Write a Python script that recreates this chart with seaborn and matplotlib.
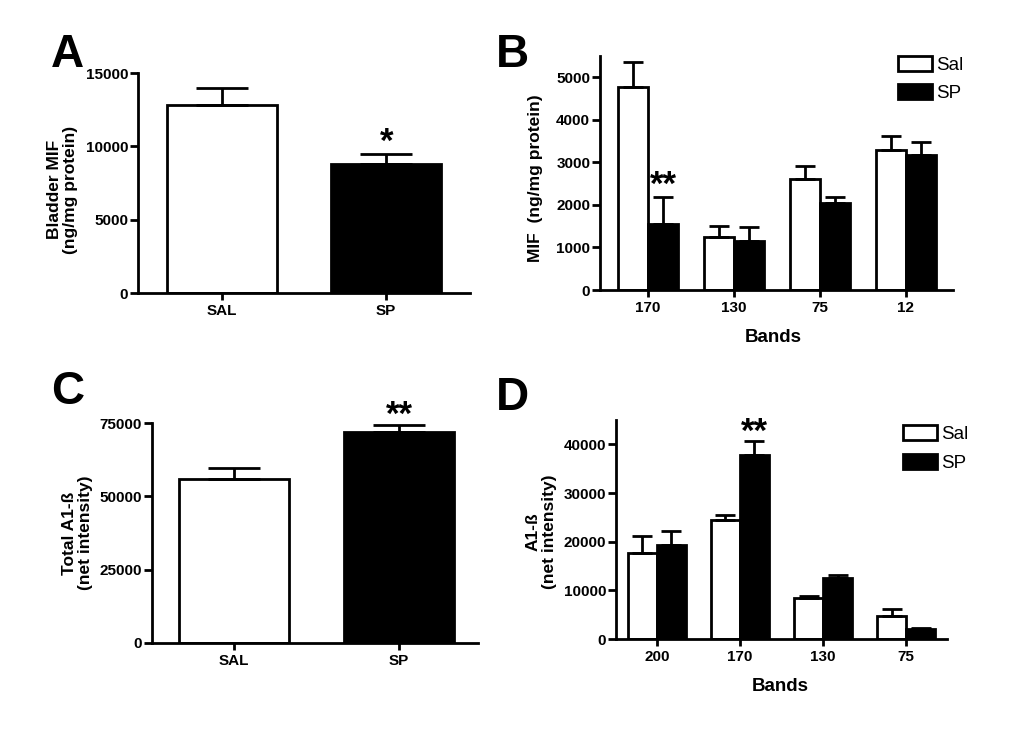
"""
Four-panel MIF / A1-ß bar chart (SAL vs SP), mean + SEM.
"""
import matplotlib
matplotlib.use("Agg")
import matplotlib.pyplot as plt
from matplotlib.patches import Patch
import pandas as pd
import seaborn as sns

sns.set_style("ticks")
plt.rcParams["font.family"] = ["Liberation Sans", "DejaVu Sans"]
plt.rcParams["font.weight"] = "bold"
plt.rcParams["axes.labelweight"] = "bold"
for key in ("text.color", "axes.labelcolor", "xtick.color", "ytick.color",
            "axes.edgecolor"):
    plt.rcParams[key] = "black"

# panel A / C: two treatment groups
GROUPS = ["SAL", "SP"]
A_MEAN = [12850, 8800]
A_SEM = [1120, 690]
C_MEAN = [55800, 71900]
C_SEM = [3900, 2400]

# panel B: MIF by band
B_BANDS = ["170", "130", "75", "12"]
B_SAL = [4760, 1250, 2620, 3300]
B_SAL_SEM = [590, 260, 290, 330]
B_SP = [1560, 1160, 2050, 3180]
B_SP_SEM = [620, 330, 130, 310]

# panel D: A1-ß by band
D_BANDS = ["200", "170", "130", "75"]
D_SAL = [17700, 24500, 8450, 4750]
D_SAL_SEM = [3500, 1000, 400, 1450]
D_SP = [19400, 37900, 12600, 2050]
D_SP_SEM = [2700, 2700, 600, 150]

TREAT = ["Sal", "SP"]
LW = 2.0


def add_errors(ax, sems, capsize):
    """One-sided (upper) SEM bars on top of each bar, left to right."""
    bars = sorted(ax.patches, key=lambda p: p.get_x())
    for p, e in zip(bars, sems):
        cx = p.get_x() + p.get_width() / 2
        ax.errorbar(cx, p.get_height(), yerr=[[0], [e]], color="black",
                    lw=LW, capsize=capsize, capthick=LW, zorder=1)


def style_axes(ax, ylim, yticks, xlim):
    sns.despine(ax=ax)
    for s in ("left", "bottom"):
        ax.spines[s].set_linewidth(LW)
    ax.set_ylim(*ylim)
    ax.set_yticks(yticks)
    ax.set_xlim(*xlim)
    ax.tick_params(axis="both", direction="out", width=LW, labelsize=11)
    ax.tick_params(axis="y", length=6, pad=1)
    ax.tick_params(axis="x", length=5, pad=3)


def single_panel(ax, means, sems, ylim, yticks, ylabel, xlim):
    df = pd.DataFrame({"group": GROUPS, "value": means})
    sns.barplot(data=df, x="group", y="value", hue="group",
                palette={"SAL": "white", "SP": "black"}, edgecolor="black",
                linewidth=LW, width=0.67, errorbar=None, legend=False, ax=ax)
    add_errors(ax, sems, capsize=19)
    style_axes(ax, ylim, yticks, xlim)
    ax.set_xlabel("")
    ax.set_ylabel(ylabel, fontsize=12.5, linespacing=1.1)


def grouped_panel(ax, bands, sal, sal_sem, sp, sp_sem, ylim, yticks, ylabel, xlim):
    df = pd.DataFrame({
        "band": bands * 2,
        "treatment": ["Sal"] * len(bands) + ["SP"] * len(bands),
        "value": sal + sp,
    })
    sns.barplot(data=df, x="band", y="value", hue="treatment", order=bands,
                hue_order=TREAT, palette={"Sal": "white", "SP": "black"},
                edgecolor="black", linewidth=LW, width=0.7, errorbar=None,
                legend=False, ax=ax)
    sems = []
    for a, b in zip(sal_sem, sp_sem):
        sems += [a, b]
    add_errors(ax, sems, capsize=7)
    style_axes(ax, ylim, yticks, xlim)
    ax.set_xlabel("Bands", fontsize=13.5)
    ax.set_ylabel(ylabel, fontsize=12.5, linespacing=1.1)
    handles = [Patch(facecolor="white", edgecolor="black", linewidth=LW, label="Sal"),
               Patch(facecolor="black", edgecolor="black", linewidth=LW, label="SP")]
    return handles


fig = plt.figure(figsize=(10.24, 7.32), dpi=100)
axA = fig.add_axes([0.1348, 0.5997, 0.3242, 0.3005])
axB = fig.add_axes([0.5859, 0.6038, 0.3447, 0.3197])
axC = fig.add_axes([0.1484, 0.1216, 0.3184, 0.3005])
axD = fig.add_axes([0.6016, 0.1270, 0.3232, 0.2992])

# A
single_panel(axA, A_MEAN, A_SEM, (0, 15000), [0, 5000, 10000, 15000],
             "Bladder MIF\n(ng/mg protein)", (-0.51, 1.51))
axA.yaxis.set_label_coords(-0.181, 0.47)
axA.text(1, 10300, "*", ha="center", va="center", fontsize=25, fontweight="bold")

# B
h = grouped_panel(axB, B_BANDS, B_SAL, B_SAL_SEM, B_SP, B_SP_SEM, (0, 5500),
                  [0, 1000, 2000, 3000, 4000, 5000], "MIF  (ng/mg protein)",
                  (-0.56, 3.55))
axB.yaxis.set_label_coords(-0.161, 0.48)
axB.xaxis.set_label_coords(0.49, -0.165)
axB.text(0.175, 2450, "**", ha="center", va="center", fontsize=25, fontweight="bold")
axB.legend(handles=h, loc="upper right", bbox_to_anchor=(1.03, 1.0), frameon=False,
           borderaxespad=0, borderpad=0, handlelength=1.8,
           handleheight=0.85, handletextpad=0.25, labelspacing=0.55,
           prop={"size": 13.5, "weight": "normal"})

# C
single_panel(axC, C_MEAN, C_SEM, (0, 75000), [0, 25000, 50000, 75000],
             "Total A1-ß\n(net intensity)", (-0.5, 1.48))
axC.yaxis.set_label_coords(-0.181, 0.5)
axC.text(1, 77500, "**", ha="center", va="center", fontsize=25,
         fontweight="bold", clip_on=False)

# D
h = grouped_panel(axD, D_BANDS, D_SAL, D_SAL_SEM, D_SP, D_SP_SEM, (0, 45000),
                  [0, 10000, 20000, 30000, 40000], "A1-ß\n(net intensity)",
                  (-0.49, 3.49))
axD.yaxis.set_label_coords(-0.178, 0.49)
axD.xaxis.set_label_coords(0.495, -0.178)
axD.text(1.175, 42500, "**", ha="center", va="center", fontsize=25, fontweight="bold")
axD.legend(handles=h, loc="upper right", bbox_to_anchor=(1.066, 0.975), frameon=False,
           borderaxespad=0, borderpad=0, handlelength=1.8,
           handleheight=0.85, handletextpad=0.25, labelspacing=0.55,
           prop={"size": 13.5, "weight": "normal"})

# panel letters
for x, y, s in [(0.050, 0.955, "A"), (0.484, 0.955, "B"),
                (0.050, 0.495, "C"), (0.484, 0.487, "D")]:
    fig.text(x, y, s, fontsize=33, fontweight="bold", va="top", ha="left")

fig.savefig("out.png", dpi=100, facecolor="white")
